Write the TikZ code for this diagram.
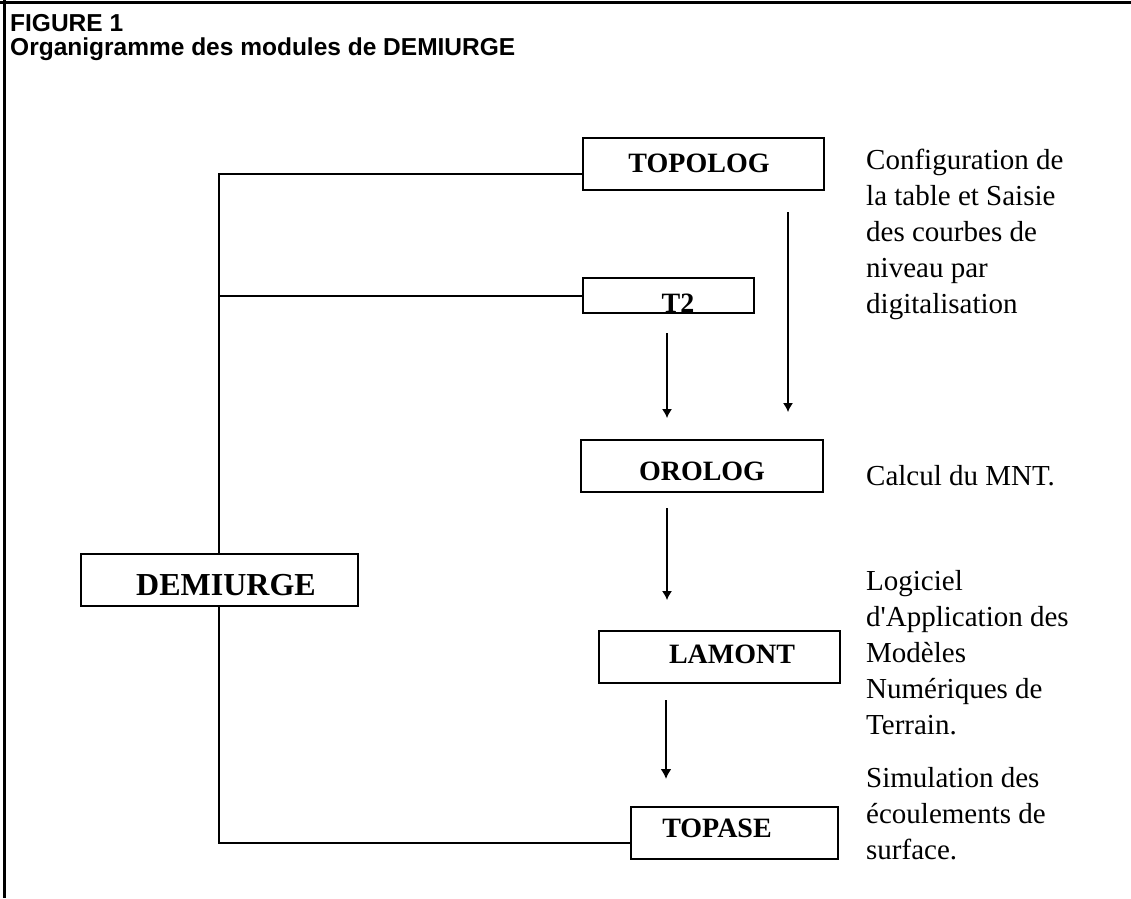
\documentclass[tikz,border=0pt]{standalone}
\usepackage{fontspec}
\setmainfont{Liberation Serif}
\newfontfamily\titlefont{Liberation Sans}
\usetikzlibrary{arrows.meta}
\begin{document}
\begin{tikzpicture}[x=1pt,y=-1pt,
  boxst/.style={draw, line width=2pt, inner sep=0pt, anchor=north west},
  lbl/.style={font=\fontsize{28}{34}\selectfont\bfseries, anchor=base, inner sep=0pt},
  desc/.style={font=\fontsize{29}{36}\selectfont, anchor=base west, inner sep=0pt},
  ttl/.style={font=\titlefont\fontsize{24.5}{28}\selectfont\bfseries, anchor=base west, inner sep=0pt},
  link/.style={line width=2pt},
  arr/.style={line width=1.2pt, -{Latex[length=9pt,width=10pt]}},
  arrthick/.style={line width=2.2pt, -{Latex[length=10pt,width=11pt]}}
]
\useasboundingbox (0,0) rectangle (1131,898);
% frame
\draw[line width=3pt] (0,2) -- (1131,2);
\draw[line width=3pt] (4.5,0) -- (4.5,898);
% title
\node[ttl] (fig) at (10,31) {FIGURE 1};
\node[ttl] (sub) at (10,55) {Organigramme des modules de DEMIURGE};
% boxes
\node[boxst, minimum width=241pt, minimum height=52pt] (TOPOLOG) at (582,137) {};
\node[boxst, minimum width=171pt, minimum height=35pt] (T2) at (582,277) {};
\node[boxst, minimum width=242pt, minimum height=52pt] (OROLOG) at (580,439) {};
\node[boxst, minimum width=241pt, minimum height=52pt] (LAMONT) at (598,630) {};
\node[boxst, minimum width=207pt, minimum height=52pt] (TOPASE) at (630,806) {};
\node[boxst, minimum width=277pt, minimum height=52pt] (DEM) at (80,553) {};
% box labels
\node[lbl] (tTOPOLOG) at (699,172) {TOPOLOG};
\node[lbl] (tT2) at (678,312) {T2};
\node[lbl] (tOROLOG) at (702,480) {OROLOG};
\node[lbl] (tLAMONT) at (732,663) {LAMONT};
\node[lbl] (tTOPASE) at (717,837) {TOPASE};
\node[lbl, font=\fontsize{32}{38}\selectfont\bfseries] (tDEM) at (226,595) {DEMIURGE};
% bracket connectors
\coordinate (j1) at (218.5,174);
\coordinate (j2) at (218.5,296);
\coordinate (j3) at (218.5,843);
\draw[link] (j1 -| TOPOLOG.west) -- (j1) -- (j1 |- DEM.north);
\draw[link] (j2) -- (j2 -| T2.west);
\draw[link] (j3 |- DEM.south) -- (j3) -- (j3 -| TOPASE.west);
% arrows
\coordinate (a1s) at (788,212); \coordinate (a1e) at (788,412);
\coordinate (a2s) at (667,333); \coordinate (a2e) at (667,418);
\coordinate (a3s) at (667,508); \coordinate (a3e) at (667,600);
\coordinate (a4s) at (666,700); \coordinate (a4e) at (666,779);
\draw[arr] (a1s) -- (a1e);
\draw[arr] (a2s) -- (a2e);
\draw[arr] (a3s) -- (a3e);
\draw[arrthick] (a4s) -- (a4e);
% descriptions
\node[desc] (d1a) at (866,169) {Configuration de};
\node[desc] (d1b) at (866,205) {la table et Saisie};
\node[desc] (d1c) at (866,241) {des courbes de};
\node[desc] (d1d) at (866,277) {niveau par};
\node[desc] (d1e) at (866,313) {digitalisation};
\node[desc] (d2a) at (866,485) {Calcul du MNT.};
\node[desc] (d3a) at (866,590) {Logiciel};
\node[desc] (d3b) at (866,626) {d\textquotesingle Application des};
\node[desc] (d3c) at (866,662) {Modèles};
\node[desc] (d3d) at (866,698) {Numériques de};
\node[desc] (d3e) at (866,734) {Terrain.};
\node[desc] (d4a) at (866,787) {Simulation des};
\node[desc] (d4b) at (866,823) {écoulements de};
\node[desc] (d4c) at (866,859) {surface.};
\end{tikzpicture}
\end{document}
